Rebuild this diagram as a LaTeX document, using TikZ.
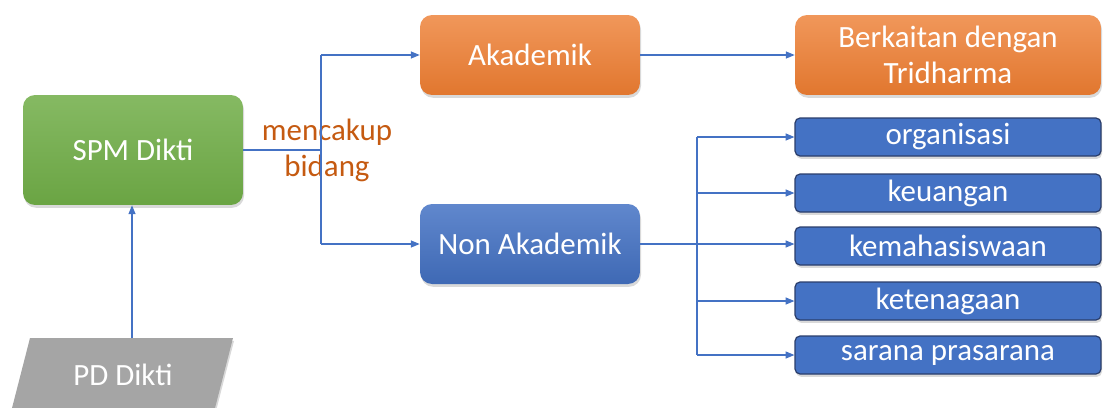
\documentclass[tikz,border=0pt]{standalone}
\usepackage{fontspec}
\setmainfont{Carlito}
\usetikzlibrary{arrows.meta,shadows}
\definecolor{hijau}{HTML}{70AD47}
\definecolor{oranye}{HTML}{ED7D31}
\definecolor{biru}{HTML}{4472C4}
\definecolor{birutua}{HTML}{2B3E6B}
\definecolor{abu}{HTML}{A5A5A5}
\definecolor{coklat}{HTML}{C55A11}

\begin{document}
\begin{tikzpicture}[x=0.02cm, y=-0.02cm,
    box/.style={rounded corners=0.24cm, text=white, inner sep=0pt, align=center,
        font=\fontsize{17.6}{20.4}\selectfont,
        drop shadow={opacity=0.3, shadow xshift=0.6pt, shadow yshift=-1.6pt}},
    bigbox/.style={box, minimum width=4.4cm, minimum height=1.6cm},
    itembox/.style={box, rounded corners=0.1cm, fill=biru, draw=birutua, line width=0.7pt,
        minimum width=6.12cm, minimum height=0.76cm},
    line/.style={draw=biru, line width=0.6pt},
    link/.style={line, -{Triangle[length=5pt,width=4pt]}}]
	%%%%% START %%%%%
	
	\useasboundingbox (0, 0) rectangle (1103, 407);
	
	\node[box, minimum width=4.4cm, minimum height=2.2cm, top color=hijau!85!white, bottom color=hijau!95!black] (spm) at (133, 150) {SPM Dikti};
	
	\node[bigbox, top color=oranye!80!white, bottom color=oranye!95!black] (aka) at (530, 55) {Akademik};
	\node[bigbox, top color=biru!85!white, bottom color=biru!92!black] (nonaka) at (530, 244) {Non Akademik};
	
	\node[box, minimum width=6.12cm, minimum height=1.6cm, top color=oranye!80!white, bottom color=oranye!95!black] (berk) at (948, 55) {Berkaitan dengan\\Tridharma};
	
	\node[itembox] (org) at (948, 137) {organisasi};
	\node[itembox] (keu) at (948, 193) {keuangan};
	\node[itembox] (kema) at (948, 246) {kemahasiswaan};
	\node[itembox] (kete) at (948, 301) {ketenagaan};
	\node[itembox] (sar) at (948, 355) {sarana prasarana};
	
	% PD Dikti, terpotong di tepi bawah
	\fill[abu, drop shadow={opacity=0.3, shadow xshift=0.6pt, shadow yshift=-1.6pt}] (30, 338) -- (233, 338) -- (214, 412) -- (11, 412) -- cycle;
	\node[text=white, font=\fontsize{17.6}{20.4}\selectfont] (pd) at (123, 375) {PD Dikti};
	\coordinate (pdtop) at (132, 338);
	
	\node[text=coklat, align=center, font=\fontsize{17.6}{20.4}\selectfont] (label) at (327, 150) {mencakup\\bidang};
	
	% cabang
	\coordinate (fork) at (321, 150);
	\coordinate (bus) at (697, 244);
	
	\draw[line] (spm.east) -- (fork);
	\draw[line] (fork |- aka.west) -- (fork |- nonaka.west);
	\draw[link] (fork |- aka.west) -- (aka.west);
	\draw[link] (fork |- nonaka.west) -- (nonaka.west);
	
	\draw[link] (aka.east) -- (berk.west);
	
	\draw[link] (nonaka.east) -- (nonaka.east -| kema.west);
	\draw[line] (bus |- org.west) -- (bus |- sar.west);
	\foreach \n in {org, keu, kete, sar}
		\draw[link] (bus |- \n.west) -- (\n.west);
	
	\draw[link] (pdtop) -- (pdtop |- spm.south);
	
	%%%%% END %%%%%
\end{tikzpicture}
\end{document}
